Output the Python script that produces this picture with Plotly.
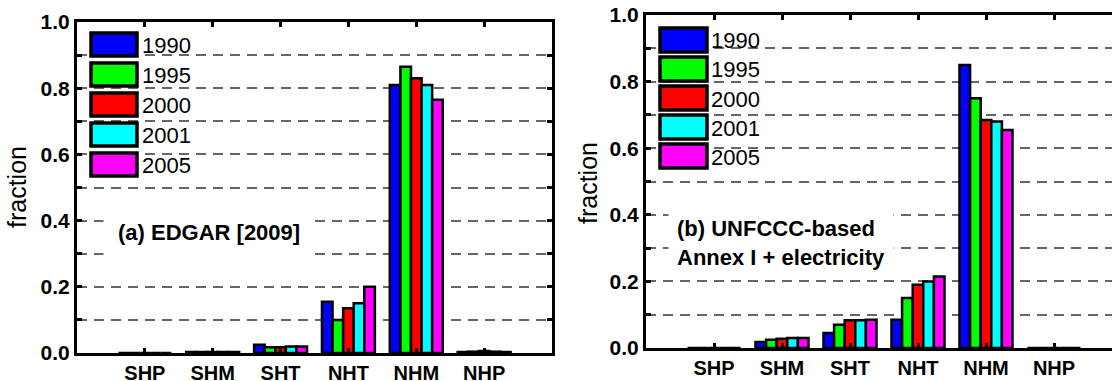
import plotly.graph_objects as go

W, H = 1112, 381

regions = ["SHP", "SHM", "SHT", "NHT", "NHM", "NHP"]
years = ["1990", "1995", "2000", "2001", "2005"]
colors = ["#0000FF", "#00FF00", "#FF0000", "#00FFFF", "#FF00FF"]

# (a) EDGAR [2009]  -- one list per year, values per region
edgar_1990 = [0.0, 0.003, 0.025, 0.155, 0.810, 0.003]
edgar_1995 = [0.0, 0.003, 0.017, 0.100, 0.865, 0.004]
edgar_2000 = [0.0, 0.003, 0.017, 0.135, 0.830, 0.006]
edgar_2001 = [0.0, 0.003, 0.020, 0.150, 0.810, 0.004]
edgar_2005 = [0.0, 0.003, 0.020, 0.200, 0.765, 0.003]

# (b) UNFCCC-based Annex I + electricity
unf_1990 = [0.0, 0.018, 0.045, 0.085, 0.850, 0.0]
unf_1995 = [0.0, 0.025, 0.070, 0.150, 0.750, 0.0]
unf_2000 = [0.0, 0.028, 0.083, 0.190, 0.685, 0.0]
unf_2001 = [0.0, 0.030, 0.083, 0.200, 0.680, 0.0]
unf_2005 = [0.0, 0.030, 0.085, 0.215, 0.655, 0.0]

edgar = [edgar_1990, edgar_1995, edgar_2000, edgar_2001, edgar_2005]
unf = [unf_1990, unf_1995, unf_2000, unf_2001, unf_2005]

ytick_vals = [0.0, 0.1, 0.2, 0.3, 0.4, 0.5, 0.6, 0.7, 0.8, 0.9, 1.0]
ytick_text = ["0.0", "", "0.2", "", "0.4", "", "0.6", "", "0.8", "", "1.0"]

xpos = list(range(1, len(regions) + 1))
FONT = "Liberation Sans, Arial"


def px_x(p):
    return p / W


def px_y(p):
    return 1 - p / H


fig = go.Figure()
for i, yr in enumerate(years):
    fig.add_trace(go.Bar(x=xpos, y=edgar[i], name=yr, marker_color=colors[i],
                         marker_line_color="black", marker_line_width=2.5,
                         xaxis="x", yaxis="y", offsetgroup=str(i), showlegend=False))
    fig.add_trace(go.Bar(x=xpos, y=unf[i], name=yr, marker_color=colors[i],
                         marker_line_color="black", marker_line_width=2.5,
                         xaxis="x2", yaxis="y2", offsetgroup=str(i), showlegend=False))

common_x = dict(tickmode="array", tickvals=xpos, ticktext=regions, ticks="inside",
                ticklen=5, tickwidth=3, tickcolor="black", showline=True,
                linecolor="black", linewidth=3, mirror="ticks", showgrid=False,
                zeroline=False, automargin=False, ticklabelstandoff=0,
                tickfont=dict(family=FONT, size=20, color="black", weight="bold"))
common_y = dict(range=[0, 1], tickmode="array", tickvals=ytick_vals, ticktext=ytick_text,
                ticks="inside", ticklen=5, tickwidth=2.5, tickcolor="black",
                showline=True, linecolor="black", linewidth=3, showgrid=True,
                gridcolor="#666666", gridwidth=1.5, griddash="10px,7px", zeroline=False,
                automargin=False, ticklabelstandoff=0,
                tickfont=dict(family=FONT, size=21, color="black", weight="bold"))

fig.update_layout(
    width=W, height=H, margin=dict(l=0, r=0, t=0, b=0, autoexpand=False),
    paper_bgcolor="white", plot_bgcolor="white",
    barmode="group", bargap=0.22, bargroupgap=0.0, showlegend=False,
    xaxis=dict(domain=[px_x(77), px_x(552)], range=[0, 7], anchor="y", **common_x),
    yaxis=dict(domain=[px_y(353), px_y(22)], anchor="x", mirror="ticks", **common_y),
    xaxis2=dict(domain=[px_x(646), 1.0], range=[0, (W - 646) / 68.0], anchor="y2",
                **common_x),
    yaxis2=dict(domain=[px_y(348), px_y(15)], anchor="x2", mirror=False, **common_y),
)

# Panel titles
fig.add_annotation(text="<b>(a) EDGAR [2009]</b>", x=px_x(209), y=px_y(233),
                   xref="paper", yref="paper", xanchor="center", yanchor="middle",
                   showarrow=False,
                   font=dict(family=FONT, size=22, color="black"),
                   bgcolor="white", borderpad=14)
fig.add_annotation(text="<b>(b) UNFCCC-based<br>Annex I + electricity</b>",
                   x=px_x(668), y=px_y(243), xref="paper", yref="paper",
                   xanchor="left", yanchor="middle", align="left", showarrow=False,
                   font=dict(family=FONT, size=22, color="black"),
                   bgcolor="white", borderpad=8)

# y-axis titles
for xp, yp in [(17, 187), (588, 183)]:
    fig.add_annotation(text="fraction", x=px_x(xp), y=px_y(yp), xref="paper",
                       yref="paper", xanchor="center", yanchor="middle",
                       showarrow=False, textangle=-90,
                       font=dict(family=FONT, size=25, color="black"))

# Legends (drawn as boxes + labels)
legends = [dict(x0=91, x1=137, top=33, h=23, pitch=30, tx=140),
           dict(x0=660, x1=707, top=28, h=24, pitch=29, tx=709)]
for lg in legends:
    for i, yr in enumerate(years):
        t = lg["top"] + i * lg["pitch"]
        fig.add_shape(type="rect", xref="paper", yref="paper",
                      x0=px_x(lg["x0"]), x1=px_x(lg["x1"]),
                      y0=px_y(t + lg["h"]), y1=px_y(t),
                      fillcolor=colors[i], line=dict(color="black", width=3.5),
                      layer="above")
        fig.add_annotation(text=yr, x=px_x(lg["tx"]), y=px_y(t + lg["h"] / 2 + 1),
                           xref="paper", yref="paper", xanchor="left",
                           yanchor="middle", showarrow=False,
                           font=dict(family=FONT, size=22, color="black"))

fig.write_html("out.html",
               config={"displayModeBar": False},
               post_script="document.body.style.margin='0';"
                           "document.body.style.overflow='hidden';")
